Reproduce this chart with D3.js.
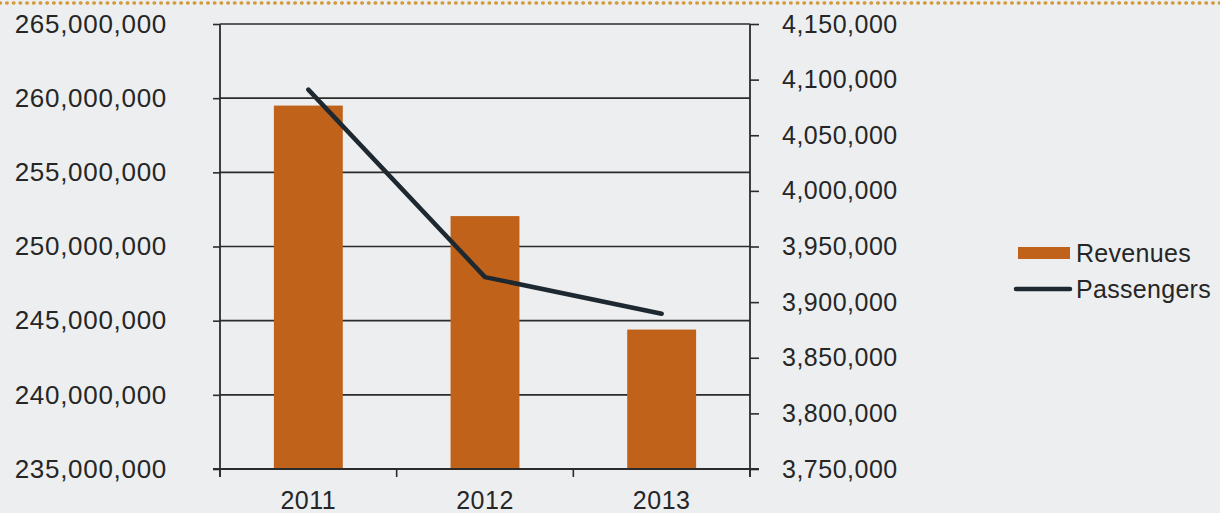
<!DOCTYPE html>
<html>
<head>
<meta charset="utf-8">
<script src="https://cdn.jsdelivr.net/npm/d3@7"></script>
<style>
  html, body { margin: 0; padding: 0; background: #eceef0; }
  svg { display: block; font-family: "Liberation Sans", Arial, sans-serif; }
</style>
</head>
<body>
<div id="chart"></div>
<script>
// Data
const years      = ["2011", "2012", "2013"];
const revenues   = [259500000, 252050000, 244400000];
const passengers = [4091000, 3922500, 3889500];
const revTicks   = [235000000, 240000000, 245000000, 250000000, 255000000, 260000000, 265000000];
const paxTicks   = [3750000, 3800000, 3850000, 3900000, 3950000, 4000000, 4050000, 4100000, 4150000];

const W = 1220, H = 513;
const plot = { left: 220, right: 750, top: 24, bottom: 469 };
const BAR = "#c0621a", LINE = "#1e2831", INK = "#262626";

const svg = d3.select("#chart").append("svg")
  .attr("width", W).attr("height", H);

// dotted orange rule along the top edge of the scan
svg.append("line")
  .attr("x1", 0).attr("x2", W).attr("y1", 3).attr("y2", 3)
  .attr("stroke", "#d39a3a").attr("stroke-width", 3.5)
  .attr("stroke-linecap", "round").attr("stroke-dasharray", "0.5,6.2");

// ---- Scales ----
const x = d3.scaleBand().domain(years).range([plot.left, plot.right]);
const yRev = d3.scaleLinear().domain([235000000, 265000000]).range([plot.bottom, plot.top]);
const yPax = d3.scaleLinear().domain([3750000, 4150000]).range([plot.bottom, plot.top]);

// ---- Gridlines (left-axis values) ----
svg.append("g").selectAll("line")
  .data(revTicks)
  .join("line")
  .attr("x1", plot.left).attr("x2", plot.right)
  .attr("y1", d => yRev(d)).attr("y2", d => yRev(d))
  .attr("stroke", "#2b2b2b").attr("stroke-width", 1.6);

// ---- Bars ----
const barW = x.bandwidth() * 0.39;
svg.append("g").selectAll("rect")
  .data(years)
  .join("rect")
  .attr("x", (d) => x(d) + (x.bandwidth() - barW) / 2)
  .attr("width", barW)
  .attr("y", (d, i) => yRev(revenues[i]))
  .attr("height", (d, i) => plot.bottom - yRev(revenues[i]))
  .attr("fill", BAR);

// ---- Axes ----
const fmt = d3.format(",");

const axL = svg.append("g")
  .attr("transform", `translate(${plot.left},0)`)
  .call(d3.axisLeft(yRev).tickValues(revTicks).tickFormat(fmt).tickSize(7).tickPadding(46));

const axR = svg.append("g")
  .attr("transform", `translate(${plot.right},0)`)
  .call(d3.axisRight(yPax).tickValues(paxTicks).tickFormat(fmt).tickSize(9).tickPadding(23));

const axB = svg.append("g")
  .attr("transform", `translate(0,${plot.bottom})`)
  .call(d3.axisBottom(x).tickSize(0).tickPadding(22));

// category ticks sit between the bands
axB.selectAll(".edge")
  .data(years.map(d => x(d)).concat([plot.right]))
  .join("line")
  .attr("class", "edge")
  .attr("x1", d => d).attr("x2", d => d)
  .attr("y1", 0).attr("y2", 8)
  .attr("stroke", "#2b2b2b").attr("stroke-width", 1.6);

[axL, axR, axB].forEach(ax => {
  ax.select(".domain").attr("stroke", "#2b2b2b").attr("stroke-width", 1.8);
  ax.selectAll(".tick line").attr("stroke", "#2b2b2b").attr("stroke-width", 1.6);
  ax.selectAll(".tick text")
    .attr("font-size", 25)
    .attr("letter-spacing", "0.5px")
    .attr("font-family", "'Liberation Sans', Arial, sans-serif")
    .attr("fill", INK);
});
axL.selectAll(".tick text").attr("font-size", 26).attr("letter-spacing", "0.7px");
axL.select(".domain").attr("d", `M0,${plot.top}V${plot.bottom + 8}`);
axR.select(".domain").attr("d", `M0,${plot.top}V${plot.bottom + 8}`);
axB.select(".domain").attr("d", `M${plot.left - 7},0H${plot.right + 9}`);

// ---- Passengers line (right axis) ----
const line = d3.line()
  .x((d, i) => x(years[i]) + x.bandwidth() / 2)
  .y(d => yPax(d));

svg.append("path")
  .datum(passengers)
  .attr("d", line)
  .attr("fill", "none")
  .attr("stroke", LINE)
  .attr("stroke-width", 4.5)
  .attr("stroke-linecap", "round")
  .attr("stroke-linejoin", "round");

// ---- Legend ----
const lg = svg.append("g").attr("transform", "translate(1016,253)");
lg.append("rect")
  .attr("x", 2).attr("y", -6).attr("width", 52).attr("height", 12)
  .attr("fill", BAR);
lg.append("text")
  .attr("x", 60).attr("y", 0).attr("dy", "0.35em")
  .attr("font-size", 25).attr("letter-spacing", "0.3px").attr("fill", INK)
  .text("Revenues");
lg.append("line")
  .attr("x1", 0).attr("x2", 54).attr("y1", 36).attr("y2", 36)
  .attr("stroke", LINE).attr("stroke-width", 4.5).attr("stroke-linecap", "round");
lg.append("text")
  .attr("x", 60).attr("y", 36).attr("dy", "0.35em")
  .attr("font-size", 25).attr("letter-spacing", "0.3px").attr("fill", INK)
  .text("Passengers");
</script>
</body>
</html>
